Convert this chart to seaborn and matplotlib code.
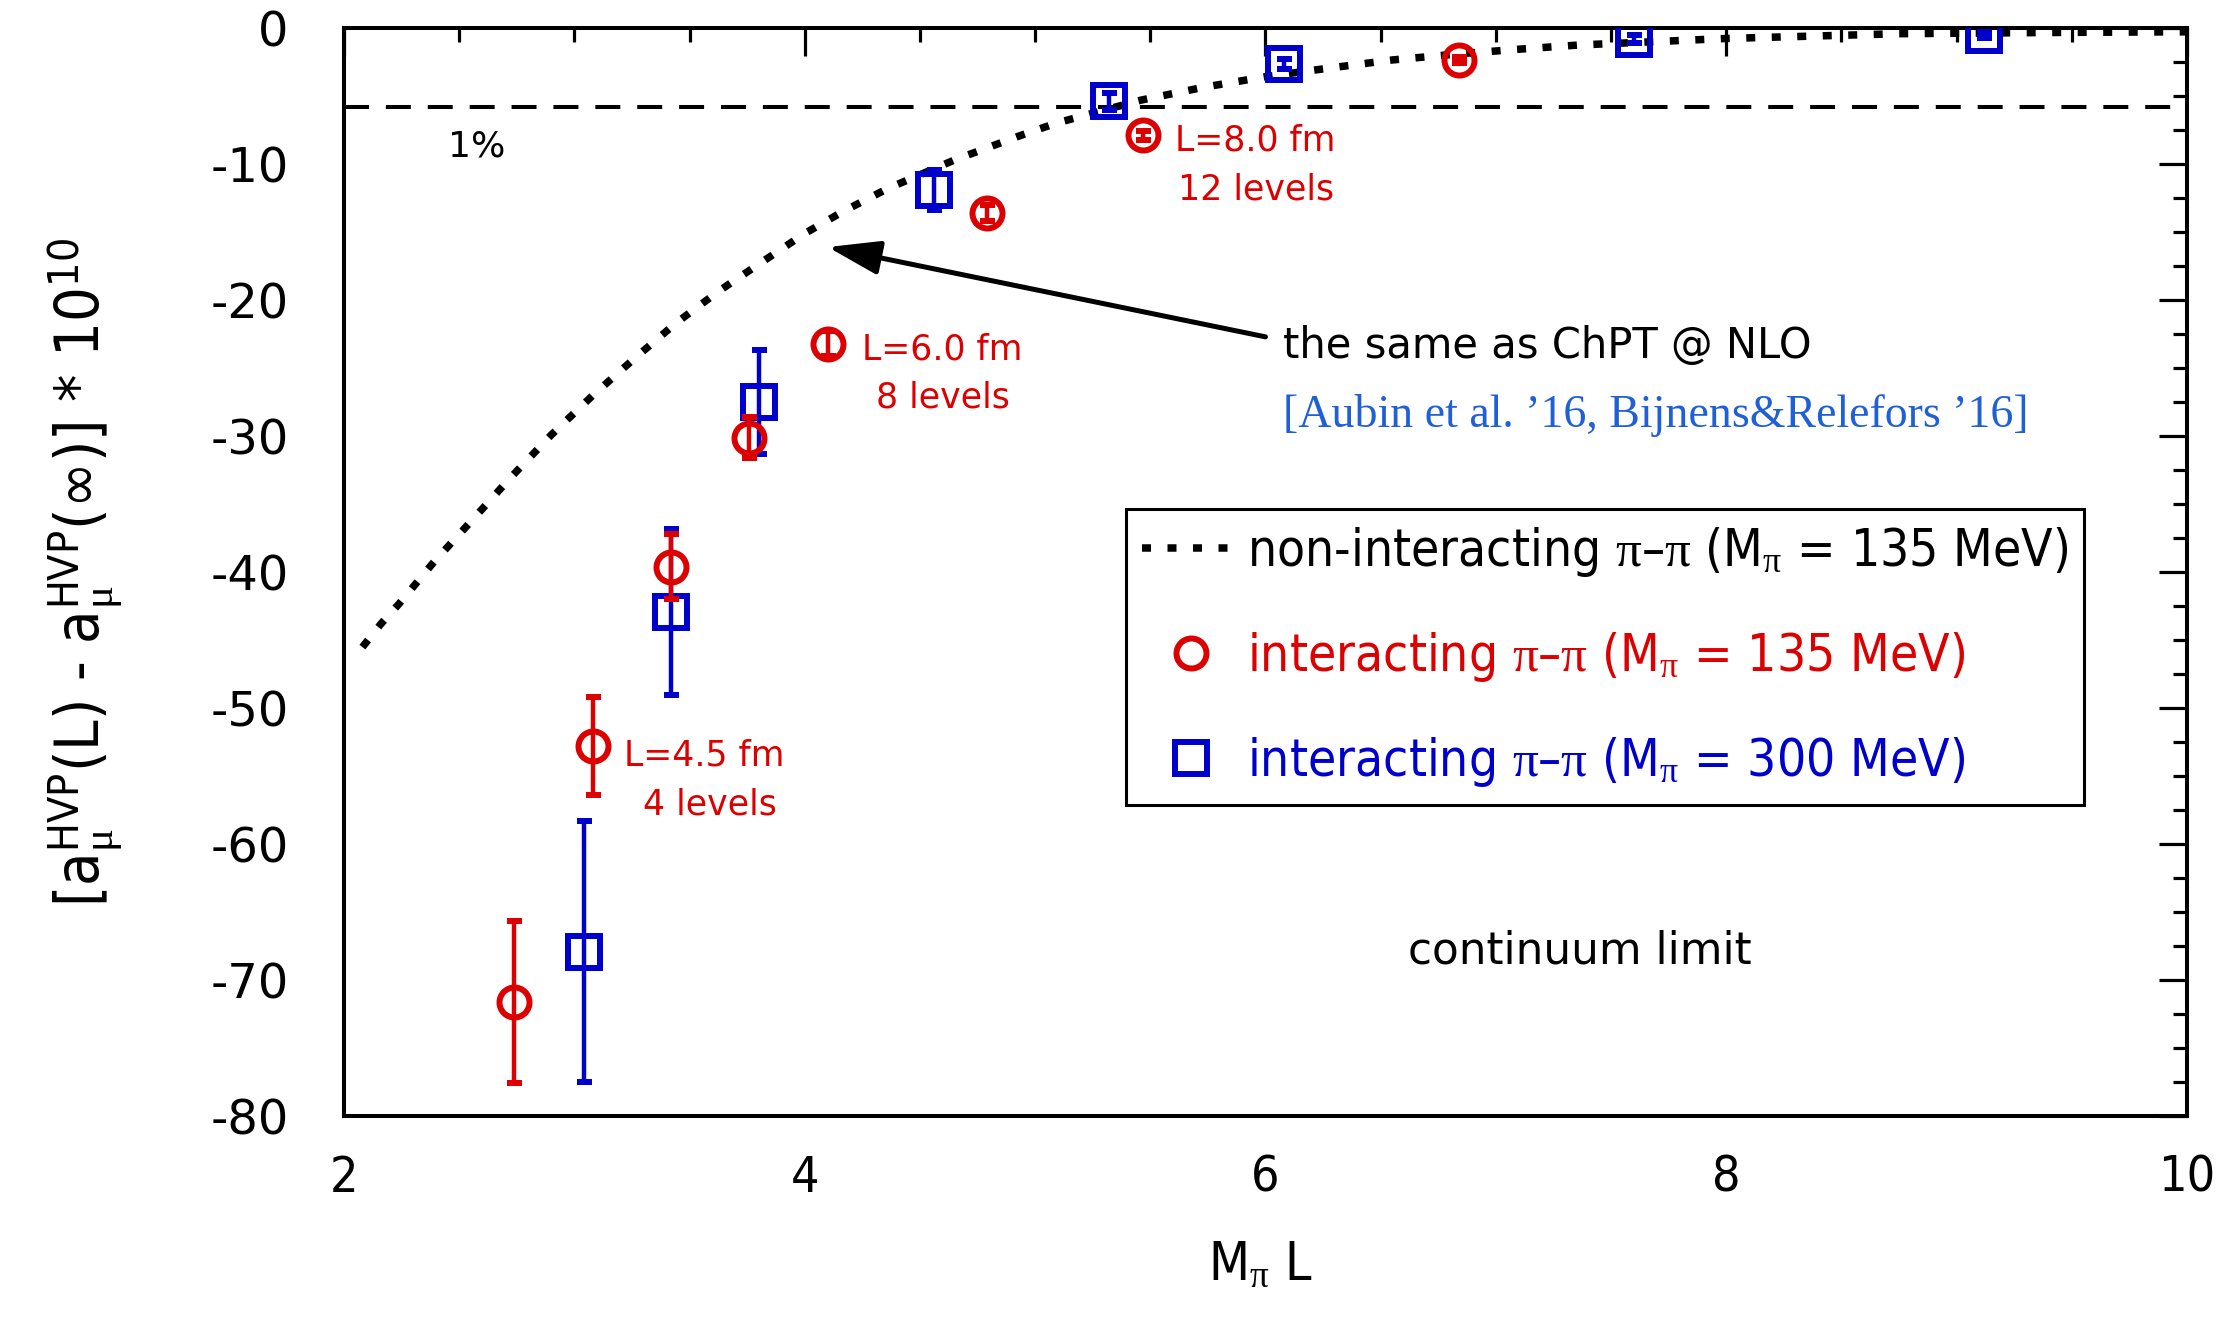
import numpy as np
import pandas as pd
import matplotlib
matplotlib.use("Agg")
import matplotlib.pyplot as plt
import seaborn as sns
from matplotlib.lines import Line2D
from matplotlib import font_manager as fm
from matplotlib.font_manager import FontProperties

# ---------------- data ----------------
curve_x = [2.08, 2.16, 2.24, 2.39, 2.56, 2.72, 2.90, 3.08, 3.26, 3.44, 3.63, 3.81,
           4.00, 4.17, 4.36, 4.65, 4.92, 5.09, 5.46, 5.73, 6.00, 6.27, 6.55, 6.82,
           7.09, 7.36, 8.00, 8.75, 9.50, 10.0]
curve_y = [-45.5, -43.8, -42.3, -39.25, -36.1, -33.1, -29.9, -27.0, -24.3, -21.7, -19.3, -17.25,
           -15.1, -13.45, -11.8, -9.7, -8.0, -7.0, -5.3, -4.36, -3.58, -2.96, -2.35, -1.93,
           -1.57, -1.25, -0.77, -0.42, -0.32, -0.28]

red_x = [2.74, 3.08, 3.42, 3.76, 4.10, 4.79, 5.47, 6.84]
red_y = [-71.6, -52.8, -39.6, -30.1, -23.2, -13.6, -7.9, -2.35]
red_err = [5.95, 3.6, 2.4, 1.5, 0.9, 0.6, 0.35, 0.25]

blue_x = [3.04, 3.42, 3.80, 4.56, 5.32, 6.08, 7.60, 9.12]
blue_y = [-67.9, -42.9, -27.5, -11.9, -5.4, -2.65, -0.8, -0.5]
blue_err = [9.6, 6.1, 3.8, 1.5, 0.6, 0.4, 0.3, 0.2]

one_percent = -5.8

xticks = [2, 4, 6, 8, 10]
xtick_labels = ["2", "4", "6", "8", "10"]
yticks = [0, -10, -20, -30, -40, -50, -60, -70, -80]
ytick_labels = ["0", "-10", "-20", "-30", "-40", "-50", "-60", "-70", "-80"]

legend_labels = [
    r"non-interacting $\pi$–$\pi$ (M$_{\pi}$ = 135 MeV)",
    r"interacting $\pi$–$\pi$ (M$_{\pi}$ = 135 MeV)",
    r"interacting $\pi$–$\pi$ (M$_{\pi}$ = 300 MeV)",
]
xlabel_text = r"M$_{\pi}$ L"
ylabel_text = r"[a$_{\mu}^{\mathrm{HVP}}$(L) - a$_{\mu}^{\mathrm{HVP}}$($\infty$)] * 10$^{\mathrm{10}}$"

RED = "#dd0000"
BLUE = "#0000cc"
CITE = "#2060d6"

# ---------------- style ----------------
sns.set_theme(style="white")


def pick_narrow():
    cands = []
    for f in fm.fontManager.ttflist:
        n = f.name.lower()
        if f.style != "normal":
            continue
        if f.weight not in (400, "normal", "regular", "book"):
            continue
        if "mono" in n or ("serif" in n and "sans" not in n):
            continue
        if ("narrow" in n or "condensed" in n or
                f.stretch in ("condensed", "semi-condensed", "extra-condensed", "ultra-condensed")):
            cands.append(f)

    def rank(f):
        n = f.name.lower()
        r = 5
        if "liberation sans narrow" in n:
            r = 0
        elif "sans" in n or "roboto" in n:
            r = 1
        if "extra" in f.fname.lower() or "ultra" in f.fname.lower():
            r += 2
        if "semi" in f.fname.lower():
            r += 1
        return r
    cands.sort(key=rank)
    return cands[0] if cands else None


nf = pick_narrow()
if nf is not None:
    NPROP_BASE = dict(fname=nf.fname)
    MATH_RM = f"{nf.name}:stretch={nf.stretch}"
else:
    NPROP_BASE = dict(family="Roboto")
    MATH_RM = "Roboto"


def nprop(size):
    return FontProperties(size=size, **NPROP_BASE)


plt.rcParams["font.family"] = ["DejaVu Sans"]
plt.rcParams["axes.unicode_minus"] = False
plt.rcParams["mathtext.fontset"] = "custom"
try:
    plt.rcParams["mathtext.rm"] = MATH_RM
    plt.rcParams["mathtext.sf"] = MATH_RM
    plt.rcParams["mathtext.bf"] = MATH_RM
except Exception:
    plt.rcParams["mathtext.rm"] = "Roboto"
plt.rcParams["mathtext.it"] = "Liberation Serif"

fig = plt.figure(figsize=(22.38, 13.17), dpi=100)
ax = fig.add_axes([0.15371, 0.15224, 0.82350, 0.82650])
ax.set_facecolor("white")
renderer = fig.canvas.get_renderer()


def measure(s, prop):
    t = fig.text(0, 0, s, fontproperties=prop)
    bb = t.get_window_extent(renderer)
    t.remove()
    return bb.width, bb.height


# non-interacting curve
df_curve = pd.DataFrame({"x": curve_x, "y": curve_y})
sns.lineplot(data=df_curve, x="x", y="y", ax=ax, color="black", lw=5.4,
             linestyle=(0, (1.2, 2.2)), dash_capstyle="butt", sort=True, zorder=2)

# 1% line
ax.axhline(one_percent, color="black", lw=2.9, ls=(0, (6.2, 4.2)), zorder=1)

# data points
ax.errorbar(red_x, red_y, yerr=red_err, fmt="o", color=RED, mfc="none", mec=RED,
            ms=21.6, mew=4.3, elinewidth=3.2, capsize=5.4, capthick=3.2, zorder=4)
ax.errorbar(blue_x, blue_y, yerr=blue_err, fmt="s", color=BLUE, mfc="none", mec=BLUE,
            ms=23, mew=4.3, elinewidth=3.2, capsize=5.4, capthick=3.2, zorder=3)

ax.set_xlim(2, 10)
ax.set_ylim(-80, 0)
ax.set_xticks(xticks, labels=xtick_labels, fontproperties=nprop(36))
ax.set_yticks(yticks, labels=ytick_labels, fontsize=34.5)
ax.xaxis.set_minor_locator(matplotlib.ticker.MultipleLocator(0.5))
ax.yaxis.set_minor_locator(matplotlib.ticker.MultipleLocator(2.5))
ax.tick_params(which="both", direction="in", top=True, right=True, colors="black", width=2.3)
ax.tick_params(which="major", length=20)
ax.tick_params(which="minor", length=10)
ax.tick_params(axis="x", which="major", pad=27)
ax.tick_params(axis="y", which="major", pad=40)
for s in ax.spines.values():
    s.set_linewidth(2.9)
    s.set_color("black")
ax.grid(False)

# axis labels (sizes fitted to the reference extents)
w, _ = measure(xlabel_text, nprop(38))
xl_size = 38 * 105.0 / w
ax.set_xlabel(xlabel_text, fontproperties=nprop(xl_size), color="black")
ax.xaxis.set_label_coords(0.497, -0.112)
w, _ = measure(ylabel_text, nprop(36))
yl_size = min(44, 36 * 689.0 / w)
ax.set_ylabel(ylabel_text, fontproperties=nprop(yl_size), color="black")
ax.yaxis.set_label_coords(-0.1194, 0.5)

# annotations
ax.text(2.45, -9.46, "1%", fontsize=26, color="black", va="baseline", ha="left")
ax.text(3.565, -54.2, "L=4.5 fm", fontsize=25, color=RED, va="baseline", ha="center")
ax.text(3.59, -57.8, "4 levels", fontsize=25, color=RED, va="baseline", ha="center")
ax.text(4.595, -24.4, "L=6.0 fm", fontsize=25, color=RED, va="baseline", ha="center")
ax.text(4.60, -27.9, "8 levels", fontsize=25, color=RED, va="baseline", ha="center")
ax.text(5.955, -8.97, "L=8.0 fm", fontsize=25, color=RED, va="baseline", ha="center")
ax.text(5.96, -12.6, "12 levels", fontsize=25, color=RED, va="baseline", ha="center")
ax.text(7.365, -68.75, "continuum limit", fontsize=31.5, color="black", va="baseline", ha="center")
ax.text(6.075, -24.26, "the same as ChPT @ NLO", fontsize=30, color="black", va="baseline", ha="left")
ax.text(6.075, -29.3, "[Aubin et al. ’16, Bijnens&Relefors ’16]", fontsize=33,
        family=["Liberation Serif", "DejaVu Serif"], color=CITE, va="baseline", ha="left")
ax.annotate("", xy=(4.10, -16.1), xytext=(6.0, -22.7),
            arrowprops=dict(arrowstyle="-|>,head_length=1.6,head_width=0.52", lw=3.6,
                            color="black", shrinkA=0, shrinkB=0, mutation_scale=20))

# legend (font fitted so that the first label spans the reference width)
w, _ = measure(legend_labels[0], nprop(40))
leg_size = min(44, 40 * 821.0 / w)
fs_px = leg_size * 100 / 72.0
_, h = measure(legend_labels[0], nprop(leg_size))
spacing = max(0.2, (105.0 - h) / fs_px)

handles = [
    Line2D([], [], color="black", lw=5.4, linestyle=(0, (1.2, 2.2)), dash_capstyle="butt"),
    Line2D([], [], color=RED, marker="o", ls="none", mfc="none", mec=RED, ms=21.6, mew=4.3),
    Line2D([], [], color=BLUE, marker="s", ls="none", mfc="none", mec=BLUE, ms=23, mew=4.3),
]
leg = ax.legend(handles, legend_labels, loc="upper left", bbox_to_anchor=(0.4243, 0.5581),
                borderaxespad=0, frameon=True, fancybox=False, edgecolor="black", framealpha=1,
                prop=nprop(leg_size), labelcolor=["black", RED, BLUE],
                handlelength=98.0 / fs_px, handletextpad=7.0 / fs_px,
                borderpad=16.0 / fs_px, labelspacing=spacing)
leg.get_frame().set_linewidth(2.2)

fig.savefig("out.png", dpi=100, facecolor="white")
